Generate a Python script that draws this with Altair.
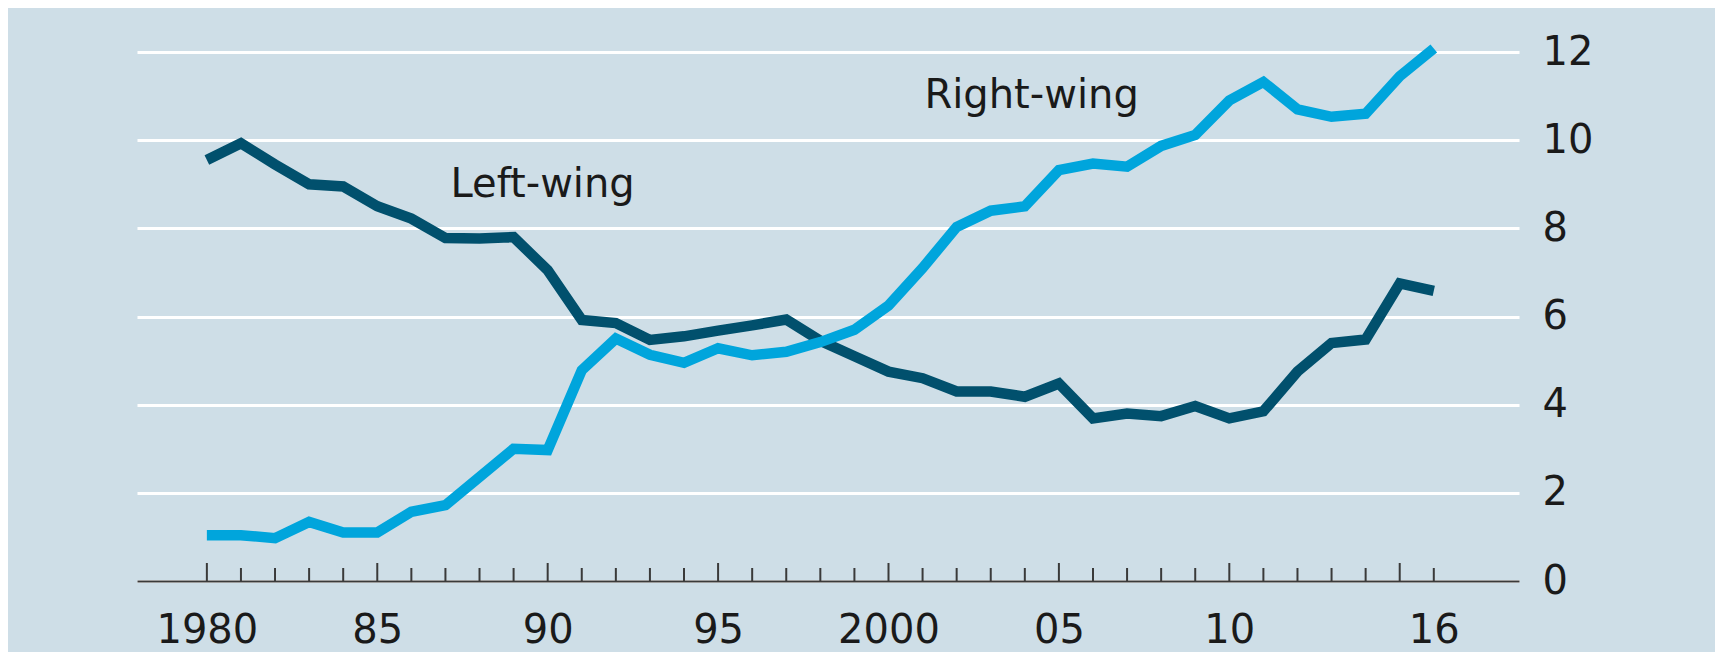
import altair as alt
import pandas as pd

years = list(range(1980, 2017))
left_wing = [9.55, 9.93, 9.45, 9.0, 8.95, 8.5, 8.22, 7.78, 7.77, 7.8,
             7.05, 5.92, 5.85, 5.47, 5.55, 5.68, 5.8, 5.93, 5.45, 5.1,
             4.75, 4.6, 4.3, 4.3, 4.18, 4.48, 3.69, 3.8, 3.74, 3.97,
             3.69, 3.85, 4.75, 5.4, 5.48, 6.75, 6.58]
right_wing = [1.04, 1.04, 0.97, 1.34, 1.1, 1.1, 1.57, 1.72, 2.36, 3.0,
              2.97, 4.78, 5.5, 5.13, 4.95, 5.28, 5.12, 5.2, 5.42, 5.7,
              6.25, 7.1, 8.03, 8.4, 8.5, 9.32, 9.47, 9.4, 9.87, 10.12,
              10.9, 11.32, 10.7, 10.53, 10.6, 11.45, 12.08]

series_names = ["Left-wing", "Right-wing"]
series_colors = ["#01506d", "#00a5dc"]

label_text = ["Left-wing", "Right-wing"]
label_year = [1989.85, 2004.2]
label_value = [8.98, 11.0]

x_tick_values = [1980, 1985, 1990, 1995, 2000, 2005, 2010, 2016]
x_tick_labels = ["1980", "85", "90", "95", "2000", "05", "10", "16"]
major_tick_years = [1980, 1985, 1990, 1995, 2000, 2005, 2010, 2015]
minor_tick_years = [y for y in years if y not in major_tick_years]
y_tick_values = [0, 2, 4, 6, 8, 10, 12]

PLOT_W = 1382
PLOT_H = 529
FONT = "DejaVu Sans"
TEXT_COLOR = "#1a1a1a"
AXIS_COLOR = "#3a3a3a"

lines_df = pd.DataFrame({
    "year": years * 2,
    "value": left_wing + right_wing,
    "series": [series_names[0]] * len(years) + [series_names[1]] * len(years),
})
labels_df = pd.DataFrame({"year": label_year, "value": label_value, "text": label_text})
major_df = pd.DataFrame({"year": major_tick_years, "value": [0] * len(major_tick_years)})
minor_df = pd.DataFrame({"year": minor_tick_years, "value": [0] * len(minor_tick_years)})

label_expr = ""
for v, l in zip(x_tick_values, x_tick_labels):
    label_expr += f"datum.value == {v} ? '{l}' : "
label_expr += "''"

x_scale = alt.Scale(domain=[1977.95, 2018.5], nice=False, zero=False)
y_scale = alt.Scale(domain=[0, 12], nice=False)

x_axis = alt.Axis(
    values=x_tick_values, labelExpr=label_expr, format="d",
    ticks=False, tickSize=0, grid=False,
    domain=True, domainColor=AXIS_COLOR, domainWidth=2,
    labelFont=FONT, labelFontSize=40, labelColor=TEXT_COLOR,
    labelBaseline="middle", labelPadding=49, labelAlign="center",
    labelFlush=False, labelOverlap=False, title=None, zindex=1,
)
y_axis = alt.Axis(
    orient="right", values=y_tick_values, ticks=False, domain=False,
    grid=True, gridColor="#ffffff", gridWidth=3,
    labelFont=FONT, labelFontSize=40, labelColor=TEXT_COLOR,
    labelAlign="left", labelBaseline="middle", labelPadding=23,
    title=None,
)

lines = alt.Chart(lines_df).mark_line(strokeWidth=10.5, strokeCap="butt").encode(
    x=alt.X("year:Q", scale=x_scale, axis=x_axis),
    y=alt.Y("value:Q", scale=y_scale, axis=y_axis),
    color=alt.Color("series:N", scale=alt.Scale(domain=series_names, range=series_colors), legend=None),
)

major_ticks = alt.Chart(major_df).mark_rule(color=AXIS_COLOR, strokeWidth=2).encode(
    x=alt.X("year:Q", scale=x_scale),
    y=alt.Y("value:Q", scale=y_scale),
    y2=alt.value(PLOT_H - 18),
)
minor_ticks = alt.Chart(minor_df).mark_rule(color=AXIS_COLOR, strokeWidth=2).encode(
    x=alt.X("year:Q", scale=x_scale),
    y=alt.Y("value:Q", scale=y_scale),
    y2=alt.value(PLOT_H - 13),
)

labels = alt.Chart(labels_df).mark_text(
    font=FONT, fontSize=40, color=TEXT_COLOR, align="center", baseline="middle"
).encode(
    x=alt.X("year:Q", scale=x_scale),
    y=alt.Y("value:Q", scale=y_scale),
    text="text:N",
)

chart = alt.layer(major_ticks, minor_ticks, lines, labels).properties(
    width=PLOT_W, height=PLOT_H,
    padding={"left": 129, "top": 44, "right": 196, "bottom": 71},
    autosize=alt.AutoSizeParams(type="none"),
    background="#cedee7",
).configure_view(stroke=None)

chart.save("out.html", embed_options={"renderer": "svg", "actions": False})
